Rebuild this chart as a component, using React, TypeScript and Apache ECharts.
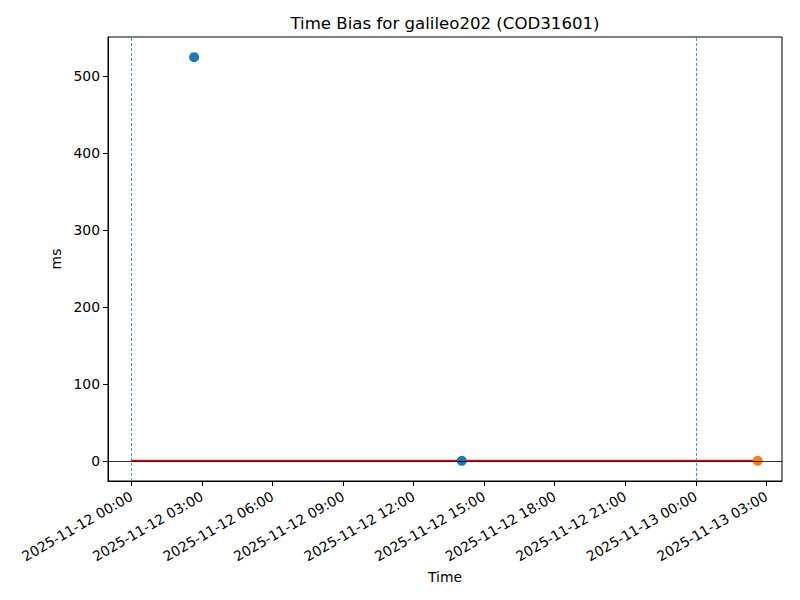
import React, { useEffect, useRef } from "react";
import * as echarts from "echarts";

const titleText = "Time Bias for galileo202 (COD31601)";
const blueTimes = ["2025-11-12T02:40:00Z", "2025-11-12T14:03:00Z"];
const blueValues = [525, 0];
const orangeTimes = ["2025-11-13T02:38:00Z"];
const orangeValues = [0];
const refLineTimes = ["2025-11-12T00:00:00Z", "2025-11-13T02:38:00Z"];
const refLineValues = [0, 0];
const dayBoundaries = ["2025-11-12T00:00:00Z", "2025-11-13T00:00:00Z"];
const xTickTimes = [
  "2025-11-12T00:00:00Z",
  "2025-11-12T03:00:00Z",
  "2025-11-12T06:00:00Z",
  "2025-11-12T09:00:00Z",
  "2025-11-12T12:00:00Z",
  "2025-11-12T15:00:00Z",
  "2025-11-12T18:00:00Z",
  "2025-11-12T21:00:00Z",
  "2025-11-13T00:00:00Z",
  "2025-11-13T03:00:00Z",
];
const yTicks = [0, 100, 200, 300, 400, 500];
const xRange = ["2025-11-11T23:00:18Z", "2025-11-13T03:40:00Z"];
const yRange = [-26.25, 551.25];

const t = (s: string) => Date.parse(s);
const pad = (n: number) => (n < 10 ? "0" + n : "" + n);
const fmt = (ms: number) => {
  const d = new Date(ms);
  return `${d.getUTCFullYear()}-${pad(d.getUTCMonth() + 1)}-${pad(d.getUTCDate())} ${pad(d.getUTCHours())}:${pad(d.getUTCMinutes())}`;
};

const FONT = "DejaVu Sans";
const FS = 13.9;

export default function App() {
  const ref = useRef<HTMLDivElement>(null);
  useEffect(() => {
    document.body.style.margin = "0";
    const chart = echarts.init(ref.current!, null, { renderer: "svg" });
    const xt = xTickTimes.map(t);
    chart.setOption({
      animation: false,
      backgroundColor: "#fff",
      textStyle: { fontFamily: FONT },
      graphic: [
        {
          type: "text",
          x: 445,
          y: 23,
          style: {
            text: titleText,
            textAlign: "center",
            textVerticalAlign: "middle",
            fontFamily: FONT,
            fontSize: 16.6,
            fill: "#000",
          },
        },
      ],
      grid: {
        left: 108,
        right: 18,
        top: 37,
        bottom: 119,
        show: true,
        borderColor: "#000",
        borderWidth: 1,
        backgroundColor: "transparent",
      },
      xAxis: {
        type: "value",
        min: t(xRange[0]),
        max: t(xRange[1]),
        name: "Time",
        nameLocation: "middle",
        nameGap: 89,
        nameTextStyle: { fontFamily: FONT, fontSize: FS, color: "#000" },
        axisLine: { show: true, onZero: false, lineStyle: { color: "#000", width: 1 } },
        axisTick: { show: true, inside: false, length: 5, customValues: xt, lineStyle: { color: "#000" } },
        axisLabel: {
          customValues: xt,
          rotate: 30,
          margin: 14,
          fontFamily: FONT,
          fontSize: FS,
          color: "#000",
          formatter: (v: number) => fmt(v),
        },
        splitLine: { show: false },
      },
      yAxis: {
        type: "value",
        min: yRange[0],
        max: yRange[1],
        name: "ms",
        nameLocation: "middle",
        nameGap: 44,
        nameTextStyle: { fontFamily: FONT, fontSize: FS, color: "#000" },
        axisLine: { show: true, onZero: false, lineStyle: { color: "#000", width: 1 } },
        axisTick: { show: true, inside: false, length: 5, customValues: yTicks, lineStyle: { color: "#000" } },
        axisLabel: { customValues: yTicks, margin: 8, fontFamily: FONT, fontSize: FS, color: "#000" },
        splitLine: { show: false },
      },
      series: [
        {
          type: "line",
          data: [],
          silent: true,
          z: 1,
          markLine: {
            silent: true,
            symbol: "none",
            label: { show: false },
            data: [
              ...dayBoundaries.map((d) => ({
                xAxis: t(d),
                lineStyle: { color: "#1f77b4", type: [3, 2], width: 0.8 },
              })),
              { yAxis: 0, lineStyle: { color: "#000", type: "solid", width: 0.8 } },
            ],
          },
        },
        {
          type: "line",
          data: refLineTimes.map((d, i) => [t(d), refLineValues[i]]),
          showSymbol: false,
          symbol: "none",
          lineStyle: { color: "#ff0000", width: 2 },
          z: 2,
        },
        {
          type: "scatter",
          data: blueTimes.map((d, i) => [t(d), blueValues[i]]),
          symbolSize: 10,
          itemStyle: { color: "#1f77b4", opacity: 1 },
          z: 3,
        },
        {
          type: "scatter",
          data: orangeTimes.map((d, i) => [t(d), orangeValues[i]]),
          symbolSize: 10,
          itemStyle: { color: "#ff7f0e", opacity: 1 },
          z: 3,
        },
      ],
    });
    return () => chart.dispose();
  }, []);
  return <div ref={ref} style={{ position: "fixed", left: 0, top: 0, width: 800, height: 600 }} />;
}
